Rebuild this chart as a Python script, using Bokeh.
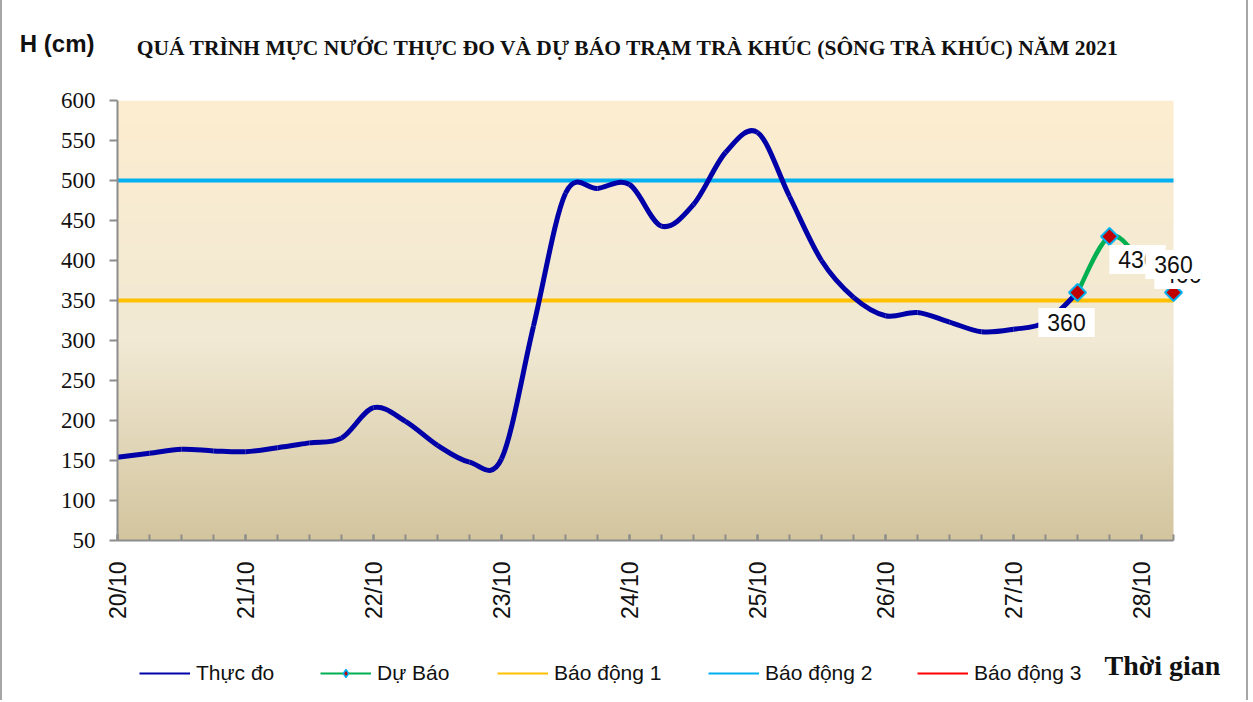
import numpy as np
from bokeh.plotting import figure
from bokeh.layouts import column
from bokeh.models import Range1d, FixedTicker, Label, Legend, LegendItem, ColumnDataSource
from bokeh.core.properties import value
from bokeh.embed import file_html
from bokeh.resources import INLINE

# ---------------- data ----------------
date_labels = ["20/10", "21/10", "22/10", "23/10", "24/10", "25/10", "26/10", "27/10", "28/10"]

# observed water level (hours since 20/10 00h, cm)
obs_hours = [0, 6, 12, 18, 24, 30, 36, 42, 48, 54, 60, 66, 72, 78, 84, 90, 96,
             102, 108, 114, 120, 126, 132, 138, 144, 150, 156, 162, 168, 174, 180]
obs_level = [154, 159, 164, 162, 161, 166, 172, 178, 216, 199, 169, 148, 152, 318, 484, 490, 495,
             443, 470, 535, 560, 480, 400, 354, 331, 335, 323, 311, 314, 323, 360]

# forecast
fc_hours = [180, 186, 192, 198]
fc_level = [360, 430, 400, 360]
fc_text = ["360", "430", "400", "360"]

alarm_names = ["Báo động 1", "Báo động 2", "Báo động 3"]
alarm_levels = [350, 500, 650]
alarm_colors = ["#FFC000", "#00B0F0", "#FF0000"]

TITLE = "QUÁ TRÌNH MỰC NƯỚC THỰC ĐO VÀ DỰ BÁO TRẠM TRÀ KHÚC (SÔNG TRÀ KHÚC) NĂM 2021"

# ---------------- layout constants ----------------
W = 1244
TOP_H = 86
MAIN_H = 544
BOT_H = 70
OX = 3                      # page x of figure content
X0, X1 = 0.0, 8.25          # plotted time span (days since 20/10 00h)
FL, FT, FH = 115, 14, 440
FW = 1118
X1E = X0 + (X1 - X0) * FW / 1056   # frame extends further so labels are not clipped
PX0, PX1 = OX + FL, OX + FL + FW    # page x of the (aligned) frames
Y0, Y1 = 50, 600
BLUE = "#0000A8"
GREEN = "#00B050"
TXT = "#111111"

# ---------------- top strip (titles) ----------------
top = figure(width=W, height=TOP_H, x_range=Range1d(PX0, PX1), y_range=Range1d(TOP_H, 0),
             output_backend="svg", toolbar_location=None,
             x_axis_location=None, y_axis_location="left", min_border=0,
             min_border_left=FL, min_border_right=W - FL - FW)
top.outline_line_color = None
top.grid.visible = False
ty = top.yaxis[0]
ty.ticker = FixedTicker(ticks=[])
ty.axis_line_color = None
ty.major_tick_line_color = None
ty.minor_tick_line_color = None
ty.axis_label = "H (cm)"
ty.axis_label_orientation = "horizontal"
ty.axis_label_text_font = "Liberation Sans"
ty.axis_label_text_font_style = "bold"
ty.axis_label_text_font_size = "24px"
ty.axis_label_text_color = TXT
ty.axis_label_standoff = 23
top.text(x=[629], y=[47], text=[TITLE], text_font=value("Liberation Serif"),
         text_font_style="bold", text_font_size="21.5px", text_align="center",
         text_baseline="middle", text_color=TXT)

# ---------------- main chart ----------------
p = figure(width=W, height=MAIN_H, output_backend="svg", toolbar_location=None,
           x_range=Range1d(X0, X1E), y_range=Range1d(Y0, Y1),
           frame_width=FW, frame_height=FH,
           min_border_left=FL, min_border_top=FT,
           min_border_right=W - FL - FW, min_border_bottom=MAIN_H - FT - FH)
p.outline_line_color = None
p.xgrid.visible = False
p.ygrid.visible = False

# gradient background of plot area
n = 120
img = np.zeros((n, 1), dtype=np.uint32)
view = img.view(dtype=np.uint8).reshape((n, 1, 4))
c_top = np.array([253, 237, 208])
c_mid = np.array([241, 233, 212])
c_bot = np.array([211, 197, 158])
for i in range(n):
    tt = i / (n - 1)
    if tt > 0.45:
        c = c_mid + (c_top - c_mid) * (tt - 0.45) / 0.55
    else:
        c = c_bot + (c_mid - c_bot) * tt / 0.45
    view[i, 0, :3] = c.astype(np.uint8)
    view[i, 0, 3] = 255
p.image_rgba(image=[img], x=X0, y=Y0, dw=X1 - X0, dh=Y1 - Y0)

# alarm lines
for lvl, col in zip(alarm_levels, alarm_colors):
    p.line([X0, X1], [lvl, lvl], line_color=col, line_width=4)


def bezier_segments(xs, ys):
    xs = np.asarray(xs, float)
    ys = np.asarray(ys, float)
    m = len(xs)
    d = dict(x0=[], y0=[], x1=[], y1=[], cx0=[], cy0=[], cx1=[], cy1=[])
    for i in range(m - 1):
        a = max(i - 1, 0)
        b = min(i + 2, m - 1)
        d["x0"].append(xs[i]); d["y0"].append(ys[i])
        d["x1"].append(xs[i + 1]); d["y1"].append(ys[i + 1])
        d["cx0"].append(xs[i] + (xs[i + 1] - xs[a]) / 6)
        d["cy0"].append(ys[i] + (ys[i + 1] - ys[a]) / 6)
        d["cx1"].append(xs[i + 1] - (xs[b] - xs[i]) / 6)
        d["cy1"].append(ys[i + 1] - (ys[b] - ys[i]) / 6)
    return ColumnDataSource(d)


obs_x = [h / 24 for h in obs_hours]
fc_x = [h / 24 for h in fc_hours]

p.bezier(source=bezier_segments(obs_x, obs_level), x0="x0", y0="y0", x1="x1", y1="y1",
         cx0="cx0", cy0="cy0", cx1="cx1", cy1="cy1", line_color=BLUE, line_width=5)
p.bezier(source=bezier_segments(fc_x, fc_level), x0="x0", y0="y0", x1="x1", y1="y1",
         cx0="cx0", cy0="cy0", cx1="cx1", cy1="cy1", line_color=GREEN, line_width=4.5)
p.scatter(fc_x, fc_level, marker="square", angle=np.pi / 4, size=12,
          fill_color="#C00000", line_color="#00B0F0", line_width=2)

# data labels (draw order so later ones cover earlier ones)
label_off = {0: (-11, -30), 2: (41, -14), 1: (28, -23), 3: (0, 28)}
for idx in [0, 2, 1, 3]:
    dx, dy = label_off[idx]
    p.add_layout(Label(x=fc_x[idx], y=fc_level[idx], x_offset=dx, y_offset=dy,
                       text=fc_text[idx], anchor="center",
                       text_font="Liberation Sans", text_font_size="23px", text_color=TXT,
                       background_fill_color="white", padding=(9, 6)))

# axes
xa = p.xaxis[0]
xa.bounds = (X0, X1)
xa.ticker = FixedTicker(ticks=list(range(len(date_labels))),
                        minor_ticks=[i * 0.25 for i in range(34)])
xa.major_label_overrides = {i: s for i, s in enumerate(date_labels)}
xa.major_label_orientation = np.pi / 2
xa.major_label_text_font = "Liberation Sans"
xa.major_label_text_font_size = "23px"
xa.major_label_text_color = TXT
xa.major_label_standoff = 21
xa.axis_line_color = "#8c8c8c"
xa.axis_line_width = 2
xa.major_tick_line_color = "#8c8c8c"
xa.minor_tick_line_color = "#8c8c8c"
xa.major_tick_line_width = 2
xa.minor_tick_line_width = 2
xa.major_tick_in = 6
xa.major_tick_out = 0
xa.minor_tick_in = 6
xa.minor_tick_out = 0

ya = p.yaxis[0]
ya.ticker = FixedTicker(ticks=list(range(50, 601, 50)))
ya.major_label_text_font = "Liberation Serif"
ya.major_label_text_font_size = "23px"
ya.major_label_text_color = TXT
ya.major_label_standoff = 14
ya.axis_line_color = "#8c8c8c"
ya.axis_line_width = 2
ya.major_tick_line_color = "#8c8c8c"
ya.major_tick_line_width = 2
ya.major_tick_in = 0
ya.major_tick_out = 8
ya.minor_tick_line_color = None

# ---------------- bottom strip (legend + x title) ----------------
bot = figure(width=W, height=BOT_H, x_range=Range1d(PX0, PX1), y_range=Range1d(0, BOT_H),
             output_backend="svg", toolbar_location=None,
             x_axis_location=None, y_axis_location=None, min_border=0,
             min_border_left=FL, min_border_right=W - FL - FW)
bot.outline_line_color = None
bot.grid.visible = False

# legend renderers: hidden copies of the series (only their legend glyphs are shown)
lx, ly = obs_x[:2], obs_level[:2]
leg_r = [
    [bot.line(lx, ly, line_color=BLUE, line_width=2)],
    [bot.line(lx, ly, line_color=GREEN, line_width=2),
     bot.scatter(lx, ly, marker="diamond", size=12,
                 fill_color="#C00000", line_color="#00B0F0", line_width=1.5)],
] + [[bot.line(lx, ly, line_color=c, line_width=2)] for c in alarm_colors]
for rs in leg_r:
    for r in rs:
        r.visible = False
leg_names = ["Thực đo", "Dự Báo"] + alarm_names
leg_start = [140, 321, 498, 709, 918]
for nm, rs, sx in zip(leg_names, leg_r, leg_start):
    bot.add_layout(Legend(items=[LegendItem(label=nm, renderers=rs)],
                          location=(sx - PX0, 15), glyph_width=51, label_standoff=6,
                          padding=0, margin=0, border_line_color=None,
                          background_fill_alpha=0, inactive_fill_alpha=0,
                          label_text_font="Liberation Sans",
                          label_text_font_size="21px", label_text_color=TXT))

bot.text(x=[1163], y=[BOT_H - 35], text=["Thời gian"], text_font=value("Liberation Serif"),
         text_font_style="bold", text_font_size="28px", text_align="center",
         text_baseline="middle", text_color=TXT)

layout = column(top, p, bot, spacing=0,
                styles={"border-left": "2px solid #a6a6a6", "border-right": "2px solid #a6a6a6"})

open("out.html", "w").write(file_html(layout, INLINE))
